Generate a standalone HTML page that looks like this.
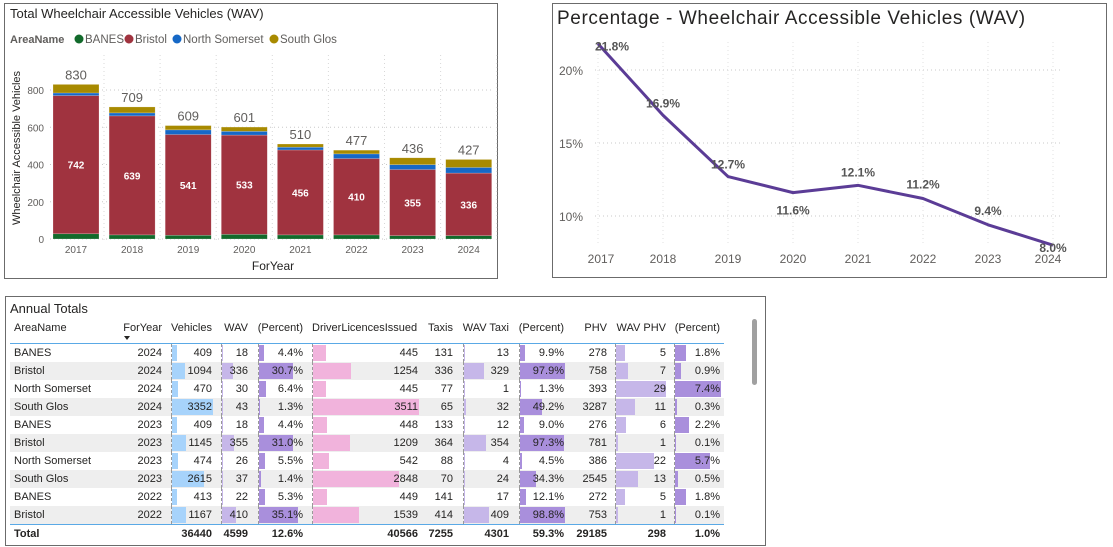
<!DOCTYPE html>
<html><head><meta charset="utf-8">
<style>
body{margin:0;width:1113px;height:547px;background:#fff;font-family:"Liberation Sans",sans-serif;position:relative;overflow:hidden}
.panel{position:absolute;border:1px solid #6b6b6b;box-sizing:border-box;background:#fff}
svg text{font-family:"Liberation Sans",sans-serif}
#tbl{position:absolute;left:0;top:0;font-size:11px;color:#252423}
.cell{position:absolute;height:18px;line-height:18px;white-space:nowrap}
</style></head><body>
<div class="panel" style="left:4px;top:3px;width:494px;height:276px"></div>
<div class="panel" style="left:552px;top:3px;width:555px;height:275px"></div>
<div class="panel" style="left:5px;top:296px;width:761px;height:250px"></div>
<svg id="chart" width="1113" height="547" style="position:absolute;left:0;top:0"></svg>
<div id="tbl"></div>
<script>
const years=["2017","2018","2019","2020","2021","2022","2023","2024"];
const banes=[28,22,20,25,22,22,18,18];
const bristol=[742,639,541,533,456,410,355,336];
const nsom=[14,16,25,20,15,25,26,30];
const sglos=[46,32,23,23,17,20,37,43];
const totals=[830,709,609,601,510,477,436,427];
const barTicks=[0,200,400,600,800];
const pctValues=[21.8,16.9,12.7,11.6,12.1,11.2,9.4,8.0];
const pctTicks=[10,15,20];

const NS="http://www.w3.org/2000/svg";
const svg=document.getElementById('chart');
function el(t,a,txt){const e=document.createElementNS(NS,t);for(const k in a)e.setAttribute(k,a[k]);if(txt!==undefined)e.textContent=txt;svg.appendChild(e);return e;}

// ---- Bar chart
let t=el('text',{x:10,y:18,'font-size':13,fill:'#252423'},'Total Wheelchair Accessible Vehicles (WAV)');

t=el('text',{x:10,y:43,'font-size':11,'font-weight':'bold',fill:'#605e5c'},'AreaName');

const series=[["BANES","#126a2b",banes,79],["Bristol","#a0333f",bristol,129],["North Somerset","#1668c6",nsom,177],["South Glos","#a88a00",sglos,274]];
series.forEach(s=>{const c=el('circle',{cx:s[3],cy:39,r:4.5,fill:s[1]});

const tx=el('text',{x:s[3]+6,y:43,'font-size':11.5,fill:'#605e5c'},s[0]);
});
const by=v=>239-v*149/800;
const bx=i=>76+i*56.1;
barTicks.forEach(v=>{
 const g=el('line',{x1:50,x2:493,y1:by(v),y2:by(v),stroke:'#c8c8c8','stroke-dasharray':'1,3'});
 
 const l=el('text',{x:44,y:by(v)+4,'font-size':10,fill:'#605e5c','text-anchor':'end'},v);
 });
years.forEach((y,i)=>{
 const g=el('line',{x1:bx(i)+28,x2:bx(i)+28,y1:55,y2:240,stroke:'#d8d8d8','stroke-dasharray':'1,3'});
 });
years.forEach((y,i)=>{
 let base=0;
 series.forEach(s=>{const v=s[2][i];
  const r=el('rect',{x:bx(i)-23,y:by(base+v),width:46,height:v*149/800,fill:s[1],stroke:'#fff','stroke-opacity':0.4,'stroke-width':0.5});
  
  base+=v;});
 const vl=el('text',{x:bx(i),y:by(banes[i]+bristol[i]/2)+4,'font-size':10,'font-weight':'bold',fill:'#fff','text-anchor':'middle'},bristol[i]);
 
 const tl=el('text',{x:bx(i),y:by(totals[i])-5,'font-size':13,fill:'#605e5c','text-anchor':'middle'},totals[i]);
 
 const xl=el('text',{x:bx(i),y:253,'font-size':10,fill:'#605e5c','text-anchor':'middle'},y);
 });
t=el('text',{x:273,y:270,'font-size':12,fill:'#252423','text-anchor':'middle'},'ForYear');

t=el('text',{x:0,y:0,'font-size':11,fill:'#252423','text-anchor':'middle',transform:'translate(20,148) rotate(-90)'},'Wheelchair Accessible Vehicles');


// ---- Line chart
t=el('text',{x:557,y:24,'font-size':19,fill:'#252423','letter-spacing':'0.6'},'Percentage - Wheelchair Accessible Vehicles (WAV)');

const ly=v=>216-(v-10)*14.6;
const lx=i=>598+i*65;
pctTicks.forEach(v=>{
 const g=el('line',{x1:595,x2:1062,y1:ly(v),y2:ly(v),stroke:'#c8c8c8','stroke-dasharray':'1,3'});
 
 const l=el('text',{x:583,y:ly(v)+5,'font-size':12,fill:'#605e5c','text-anchor':'end'},v+'%');
 });
years.forEach((y,i)=>{
 const g=el('line',{x1:lx(i),x2:lx(i),y1:42,y2:245,stroke:'#e0e0e0','stroke-dasharray':'1,3'});
 
 const xl=el('text',{x:lx(i)+(i==0?3:i==7?-5:0),y:263,'font-size':12,fill:'#605e5c','text-anchor':'middle'},y);
 });
const pl=el('polyline',{points:pctValues.map((v,i)=>lx(i)+','+ly(v)).join(' '),fill:'none',stroke:'#5b3c96','stroke-width':3,'stroke-linejoin':'round'});

const dy=[7,-8,-8,22,-9,-10,-10,7],dx=[14,0,0,0,0,0,0,0];
pctValues.forEach((v,i)=>{
 const l=el('text',{x:lx(i)+dx[i],y:ly(v)+dy[i],'font-size':12,'font-weight':'bold',fill:'#555','text-anchor':'middle'},v.toFixed(1)+'%');
 });

// ---- Table
const rowArea=["BANES","Bristol","North Somerset","South Glos","BANES","Bristol","North Somerset","South Glos","BANES","Bristol"];
const rowYear=[2024,2024,2024,2024,2023,2023,2023,2023,2022,2022];
const vehicles=[409,1094,470,3352,409,1145,474,2615,413,1167];
const wav=[18,336,30,43,18,355,26,37,22,410];
const wavPct=[4.4,30.7,6.4,1.3,4.4,31.0,5.5,1.4,5.3,35.1];
const licences=[445,1254,445,3511,448,1209,542,2848,449,1539];
const taxis=[131,336,77,65,133,364,88,70,141,414];
const wavTaxi=[13,329,1,32,12,354,4,24,17,409];
const taxiPct=[9.9,97.9,1.3,49.2,9.0,97.3,4.5,34.3,12.1,98.8];
const phv=[278,758,393,3287,276,781,386,2545,272,753];
const wavPhv=[5,7,29,11,6,1,22,13,5,1];
const phvPct=[1.8,0.9,7.4,0.3,2.2,0.1,5.7,0.5,1.8,0.1];
const totalRow=["","","36440","4599","12.6%","40566","7255","4301","59.3%","29185","298","1.0%"];
const headers=["AreaName","ForYear","Vehicles","WAV","(Percent)","DriverLicencesIssued","Taxis","WAV Taxi","(Percent)","PHV","WAV PHV","(Percent)"];

const tb=document.getElementById('tbl');
function cell(x,y,w,txt,opts){const d=document.createElement('div');d.className='cell';
 d.style.left=x+'px';d.style.top=y+'px';d.style.width=w+'px';d.textContent=txt;
 if(opts&&opts.align)d.style.textAlign=opts.align;if(opts&&opts.bold)d.style.fontWeight='bold';
 if(opts&&opts.color)d.style.color=opts.color;tb.appendChild(d);return d;}
const cols=[
 [14,120,rowArea,v=>v,null,0],
 [120,162,rowYear,v=>v,null,0],
 [171,212,vehicles,v=>v,'#a7d3fb',41/3352],
 [221,248,wav,v=>v,'#c6b7e9',14/410],
 [258,303,wavPct,v=>v.toFixed(1)+'%','#a98fdc',39/35.1],
 [312,418,licences,v=>v,'#f1b3dc',106/3511],
 [423,453,taxis,v=>v,null,0],
 [463,509,wavTaxi,v=>v,'#c6b7e9',22/354],
 [519,564,taxiPct,v=>v.toFixed(1)+'%','#a98fdc',45/98.8],
 [570,607,phv,v=>v,null,0],
 [615,666,wavPhv,v=>v,'#c6b7e9',50/29],
 [674,720,phvPct,v=>v.toFixed(1)+'%','#a98fdc',46/7.4]];
const ttl=cell(10,300,150,'Annual Totals');ttl.style.fontSize='13px';ttl.style.color='#252423';

headers.forEach((h,j)=>{const c=cols[j];
 const d=cell(j==0?c[0]:c[0]-8,319,j==0?100:c[1]-c[0]+8,h,{align:j==0?'left':'right',color:'#252423'});
 if(j==5){d.style.textAlign='left';d.style.left=(c[0])+'px';}
 });
const sort=document.createElement('div');sort.style.cssText='position:absolute;left:124px;top:336px;width:0;height:0;border-left:3px solid transparent;border-right:3px solid transparent;border-top:4px solid #252423';
tb.appendChild(sort);
function hline(y,c,n){const d=document.createElement('div');d.style.cssText=`position:absolute;left:10px;top:${y}px;width:714px;height:1px;background:${c}`;
 tb.appendChild(d);}
rowArea.forEach((a,i)=>{
 const y=344+i*18;
 const bg=document.createElement('div');bg.style.cssText=`position:absolute;left:10px;top:${y}px;width:714px;height:18px;background:${i%2?'#eeeeee':'#fff'}`;
 tb.appendChild(bg);
 cols.forEach((c,j)=>{
  const v=c[2][i];
  if(c[4]){
   const sep=document.createElement('div');sep.style.cssText=`position:absolute;left:${c[0]}px;top:${y}px;height:18px;border-left:1px dashed #999`;tb.appendChild(sep);
   const b=document.createElement('div');b.style.cssText=`position:absolute;left:${c[0]+1}px;top:${y+1}px;width:${Math.max(1,v*c[5])}px;height:16px;background:${c[4]}`;
   tb.appendChild(b);}
  const d=cell(j==0?c[0]:c[0]-8,y,j==0?110:c[1]-c[0]+8,c[3](v),{align:j==0?'left':'right'});
  });
});
hline(343,'#5aa9e6','header-divider');
hline(524,'#5aa9e6','total-divider');
totalRow.forEach((v,j)=>{const c=cols[j];
 const d=cell(j==0?c[0]:c[0]-20,525,j==0?60:c[1]-c[0]+20,j==0?'Total':v,{align:j==0?'left':'right',bold:true});
 });
const sb=document.createElement('div');sb.style.cssText='position:absolute;left:752px;top:319px;width:5px;height:66px;border-radius:3px;background:#a0a0a0';
tb.appendChild(sb);
</script>
</body></html>
